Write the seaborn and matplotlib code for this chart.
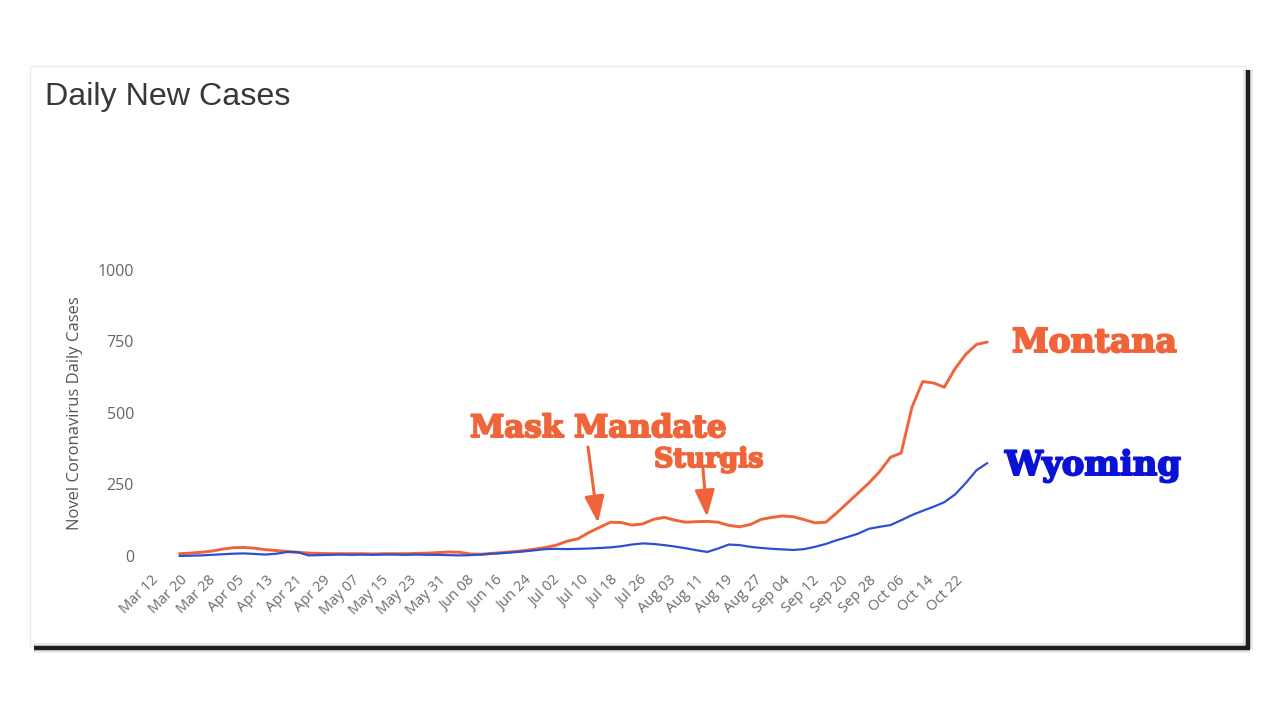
import pandas as pd
import matplotlib
matplotlib.use("Agg")
import matplotlib.pyplot as plt
import matplotlib.transforms as mtransforms
import matplotlib.patheffects as pe
from matplotlib.lines import Line2D
from matplotlib.patches import Rectangle
import seaborn as sns

# ---------------- data (3-day steps) ----------------
first_date = "2020-03-18"
step = "3D"
montana = [8, 10, 13, 17, 24, 29, 30, 27, 22, 19, 16, 13, 10, 9, 8, 8, 8, 8, 7, 8,
           8, 8, 9, 10, 12, 14, 13, 7, 6, 9, 12, 15, 19, 24, 30, 38, 52, 60, 82, 100,
           118, 117, 108, 112, 128, 135, 125, 118, 120, 121, 118, 107, 102, 110, 128, 135, 140, 137, 127, 116,
           118, 150, 185, 220, 255, 295, 345, 360, 520, 610, 605, 590, 655, 705, 740, 748]
wyoming = [0, 1, 2, 4, 6, 8, 9, 7, 5, 8, 14, 13, 2, 3, 4, 5, 4, 5, 4, 5,
           5, 4, 5, 4, 4, 3, 2, 3, 5, 8, 10, 13, 16, 20, 24, 25, 24, 25, 26, 28,
           30, 34, 40, 44, 42, 38, 33, 27, 20, 14, 26, 40, 38, 32, 28, 25, 23, 21, 24, 32,
           42, 55, 66, 78, 95, 102, 108, 125, 143, 158, 172, 188, 215, 255, 300, 325]
tick_labels = ["Mar 12", "Mar 20", "Mar 28", "Apr 05", "Apr 13", "Apr 21", "Apr 29",
               "May 07", "May 15", "May 23", "May 31", "Jun 08", "Jun 16", "Jun 24",
               "Jul 02", "Jul 10", "Jul 18", "Jul 26", "Aug 03", "Aug 11", "Aug 19",
               "Aug 27", "Sep 04", "Sep 12", "Sep 20", "Sep 28", "Oct 06", "Oct 14", "Oct 22"]
y_ticks = [0, 250, 500, 750, 1000]
states = ["Montana", "Wyoming"]
orange = "#f0643a"
blue_line = "#2f4fd3"
blue_text = "#0a12d6"

dates = pd.date_range(first_date, periods=len(montana), freq=step)
df = pd.concat([
    pd.DataFrame({"date": dates, "cases": montana, "state": "Montana"}),
    pd.DataFrame({"date": dates, "cases": wyoming, "state": "Wyoming"}),
], ignore_index=True)
tick_dates = pd.to_datetime([lbl + " 2020" for lbl in tick_labels], format="%b %d %Y")

# ---------------- figure ----------------
sns.set_theme(style="white")
plt.rcParams["font.family"] = ["Open Sans", "DejaVu Sans"]

W, H = 1280, 720
fig = plt.figure(figsize=(12.8, 7.2), dpi=100)
fig.patch.set_facecolor("white")

def fx(px):
    return px / W

def fy(py):
    return 1 - py / H

# panel frame with shadow
fig.add_artist(Rectangle((fx(30), fy(646)), fx(1246) - fx(30), fy(66) - fy(646),
                         transform=fig.transFigure, fill=False, edgecolor="#ececec", lw=1))
for lw, col, a in [(7, "#bdbdbd", 0.35), (3.2, "#1e1e1e", 1.0)]:
    fig.add_artist(Line2D([fx(1248), fx(1248)], [fy(70), fy(649)], transform=fig.transFigure,
                          color=col, lw=lw, alpha=a, solid_capstyle="butt"))
    fig.add_artist(Line2D([fx(34), fx(1249.5)], [fy(648), fy(648)], transform=fig.transFigure,
                          color=col, lw=lw, alpha=a, solid_capstyle="butt"))

# axes placement
ax_left, ax_right = 143.6, 1001.7
ax_top, ax_bottom = 270.0, 561.7
ax = fig.add_axes([fx(ax_left), fy(ax_bottom), fx(ax_right) - fx(ax_left), fy(ax_top) - fy(ax_bottom)])
ax.set_facecolor("none")

sns.lineplot(data=df, x="date", y="cases", hue="state", hue_order=states,
             palette={"Montana": orange, "Wyoming": blue_line}, ax=ax, legend=False)
for line, lw in zip(ax.get_lines(), [2.1, 1.6]):
    line.set_linewidth(lw)
ax.get_lines()[1].set_zorder(3)

ax.set_xlim(pd.Timestamp("2020-03-08"), pd.Timestamp("2020-11-02"))
ax.set_ylim(-20, 1000)
ax.set_xticks(tick_dates)
ax.set_xticklabels([""] * len(tick_labels))
# rotated date labels, right end placed at each tick
lbl_trans = mtransforms.blended_transform_factory(ax.transData, ax.transAxes) + \
    mtransforms.ScaledTranslation(-7 / 100, -11 / 100, fig.dpi_scale_trans)
for d, lbl in zip(tick_dates, tick_labels):
    ax.text(d, 0, lbl, transform=lbl_trans, rotation=45, ha="right", va="top",
            rotation_mode="anchor", fontsize=10.5, color="#6b6b6b", clip_on=False)
ax.set_yticks(y_ticks)
ax.set_yticklabels([str(v) for v in y_ticks], fontsize=11.5, color="#666666")
ax.tick_params(axis="x", length=0, pad=0)
ax.tick_params(axis="y", length=0, pad=7)
ax.set_xlabel("")
ax.set_ylabel("")
for s in ax.spines.values():
    s.set_visible(False)
ax.grid(False)

# y-axis title
fig.text(fx(75), fy(413), "Novel Coronavirus Daily Cases", rotation=90, ha="center", va="center",
         fontsize=12, color="#555555")

# chart title
fig.text(fx(45), fy(105), "Daily New Cases", ha="left", va="baseline", fontsize=23.2,
         color="#383838", family=["Liberation Sans", "DejaVu Sans"])

# annotations
serif = ["DejaVu Serif"]
def heavy(col, w=1.4):
    return [pe.withStroke(linewidth=w, foreground=col)]

fig.text(fx(470), fy(437), "Mask Mandate", ha="left", va="baseline", fontsize=22.3,
         fontweight="bold", color=orange, family=serif, path_effects=heavy(orange))
fig.text(fx(654), fy(467), "Sturgis", ha="left", va="baseline", fontsize=19.3,
         fontweight="bold", color=orange, family=serif, path_effects=heavy(orange))
fig.text(fx(1012), fy(352), "Montana", ha="left", va="baseline", fontsize=23.8,
         fontweight="bold", color=orange, family=serif, path_effects=heavy(orange))
fig.text(fx(1005), fy(475), "Wyoming", ha="left", va="baseline", fontsize=24.3,
         fontweight="bold", color=blue_text, family=serif, path_effects=heavy(blue_text))

arrow_style = dict(arrowstyle="-|>,head_length=0.65,head_width=0.24", color=orange, lw=2.2,
                   mutation_scale=25, shrinkA=0, shrinkB=0)
ax.annotate("", xy=(fx(598), fy(523)), xytext=(fx(588), fy(447)),
            xycoords="figure fraction", textcoords="figure fraction", arrowprops=arrow_style)
ax.annotate("", xy=(fx(707), fy(517)), xytext=(fx(703), fy(469)),
            xycoords="figure fraction", textcoords="figure fraction", arrowprops=arrow_style)

fig.savefig("out.png", dpi=100, facecolor="white")
